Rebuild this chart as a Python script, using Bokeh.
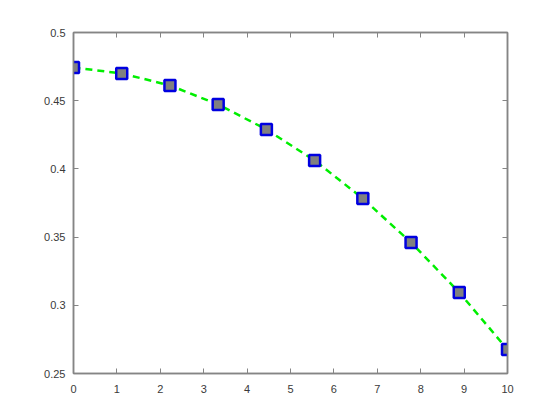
from bokeh.plotting import figure
from bokeh.models import LinearAxis, FixedTicker, Range1d
from bokeh.embed import file_html
from bokeh.resources import INLINE

x_vals = [0, 1.1111, 2.2222, 3.3333, 4.4444, 5.5556, 6.6667, 7.7778, 8.8889, 10]
y_vals = [0.4743, 0.4700, 0.4612, 0.4472, 0.4289, 0.4062, 0.3783, 0.3460, 0.3094, 0.2676]

x_ticks = [0, 1, 2, 3, 4, 5, 6, 7, 8, 9, 10]
x_tick_labels = ["0", "1", "2", "3", "4", "5", "6", "7", "8", "9", "10"]
y_ticks = [0.25, 0.3, 0.35, 0.4, 0.45, 0.5]
y_tick_labels = ["0.25", "0.3", "0.35", "0.4", "0.45", "0.5"]

AX = "#858585"
LBL = "#3a3a3a"
FONT = "Liberation Sans"

p = figure(width=544, height=404, output_backend="svg", toolbar_location=None,
           x_range=Range1d(0, 10), y_range=Range1d(0.25, 0.5),
           min_border_left=73, min_border_right=37, min_border_top=32, min_border_bottom=31,
           x_axis_location=None, y_axis_location=None)
p.grid.visible = False
p.outline_line_color = AX
p.outline_line_width = 1.5
p.background_fill_color = "white"
p.border_fill_color = "white"

def style(ax):
    ax.axis_line_color = AX
    ax.axis_line_width = 1.5
    ax.major_tick_line_color = AX
    ax.major_tick_in = 5
    ax.major_tick_out = 0
    ax.minor_tick_line_color = None
    ax.major_label_text_font = FONT
    ax.major_label_text_font_size = "11px"
    ax.major_label_text_color = LBL

bx = LinearAxis(ticker=FixedTicker(ticks=x_ticks),
                major_label_overrides={t: l for t, l in zip(x_ticks, x_tick_labels)})
style(bx)
bx.major_label_standoff = 11
p.add_layout(bx, "below")
tx = LinearAxis(ticker=FixedTicker(ticks=x_ticks),
                major_label_overrides={t: "" for t in x_ticks})
style(tx)
p.add_layout(tx, "above")

ly = LinearAxis(ticker=FixedTicker(ticks=y_ticks),
                major_label_overrides={t: l for t, l in zip(y_ticks, y_tick_labels)})
style(ly)
ly.major_label_standoff = 8
p.add_layout(ly, "left")
ry = LinearAxis(ticker=FixedTicker(ticks=y_ticks),
                major_label_overrides={t: "" for t in y_ticks})
style(ry)
p.add_layout(ry, "right")

p.line(x_vals, y_vals, line_color="#00ee00", line_width=2.5, line_dash="7 5")
p.scatter(x_vals, y_vals, marker="square", size=11, fill_color="#808080",
          line_color="#0000e0", line_width=2.5)

open("out.html", "w").write(file_html(p, INLINE))
